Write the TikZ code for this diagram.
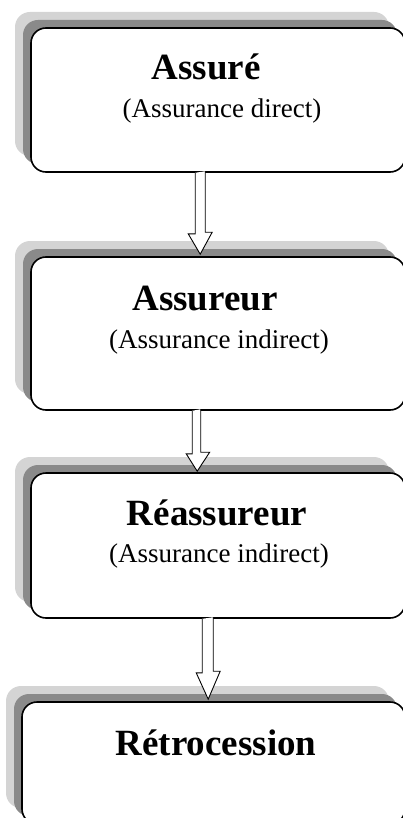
\documentclass[tikz,border=0pt]{standalone}
\usepackage{fontspec}
\setmainfont{Liberation Serif}
\usetikzlibrary{shadows,calc}
\definecolor{shlight}{RGB}{212,212,212}
\definecolor{shdark}{RGB}{138,138,138}
\tikzset{
  box/.style={draw=black, line width=1.6pt, fill=white, rounded corners=15pt,
    inner sep=0pt,
    copy shadow={shadow xshift=-16pt, shadow yshift=16pt, fill=shlight, draw=none},
    copy shadow={shadow xshift=-8pt, shadow yshift=8pt, fill=shdark, draw=none}},
  title/.style={anchor=base, inner sep=0pt, font=\fontsize{37}{40}\selectfont\bfseries},
  sub/.style={anchor=base, inner sep=0pt, font=\fontsize{27}{30}\selectfont},
  blockarrow/.style={draw=black, line width=0.9pt, fill=white, line join=miter}
}
\newcommand{\blkarrow}[7]{% x-left shaft, x-right shaft, y-start, y-headstart, head-left, head-right, tip y
  \draw[blockarrow] (#1,#3) -- (#1,#4) -- (#5,#4) -- ($(#5,#4)!0.5!(#6,#4)$ |- 0,#7) -- (#6,#4) -- (#2,#4) -- (#2,#3);}
\begin{document}
\begin{tikzpicture}[x=1pt,y=-1pt]
\useasboundingbox (0,0) rectangle (403,818);
\clip (0,0) rectangle (403,818);
\node[box, minimum width=374pt, minimum height=144pt] (b1) at (218,100) {};
\node[box, minimum width=374pt, minimum height=153pt] (b2) at (218,333.5) {};
\node[box, minimum width=374pt, minimum height=145pt] (b3) at (218,545.5) {};
\node[box, minimum width=383pt, minimum height=122pt] (b4) at (213.5,763) {};
\node[title] (t1) at (206,80) {Assuré};
\node[sub] (s1) at (222,118) {(Assurance direct)};
\node[title] (t2) at (205,310) {Assureur};
\node[sub] (s2) at (219,348) {(Assurance indirect)};
\node[title] (t3) at (217,525) {Réassureur};
\node[sub] (s3) at (219,562) {(Assurance indirect)};
\node[title] (t4) at (216,755) {Rétrocession};
% arrows between boxes
\draw[blockarrow] ($(b1.south west)+(165,0)$) coordinate (a1s) -- ++(0,61) -- ++(-7,0) -- ($(b2.north west)+(170,-2)$) -- ++(12,-22) -- ++(-7,0) -- ++(0,-61) ;
\draw[blockarrow] ($(b2.south west)+(162,0)$) coordinate (a2s) -- ++(0,43) -- ++(-6,0) -- ($(b3.north west)+(167,-1)$) -- ++(12.5,-19) -- ++(-9,0) -- ++(0,-43) ;
\draw[blockarrow] ($(b3.south west)+(172,0)$) coordinate (a3s) -- ++(0,54) -- ++(-6,0) -- ($(b4.north west)+(187,-2)$) -- ++(12,-28) -- ++(-7,0) -- ++(0,-54) ;
\end{tikzpicture}
\end{document}
